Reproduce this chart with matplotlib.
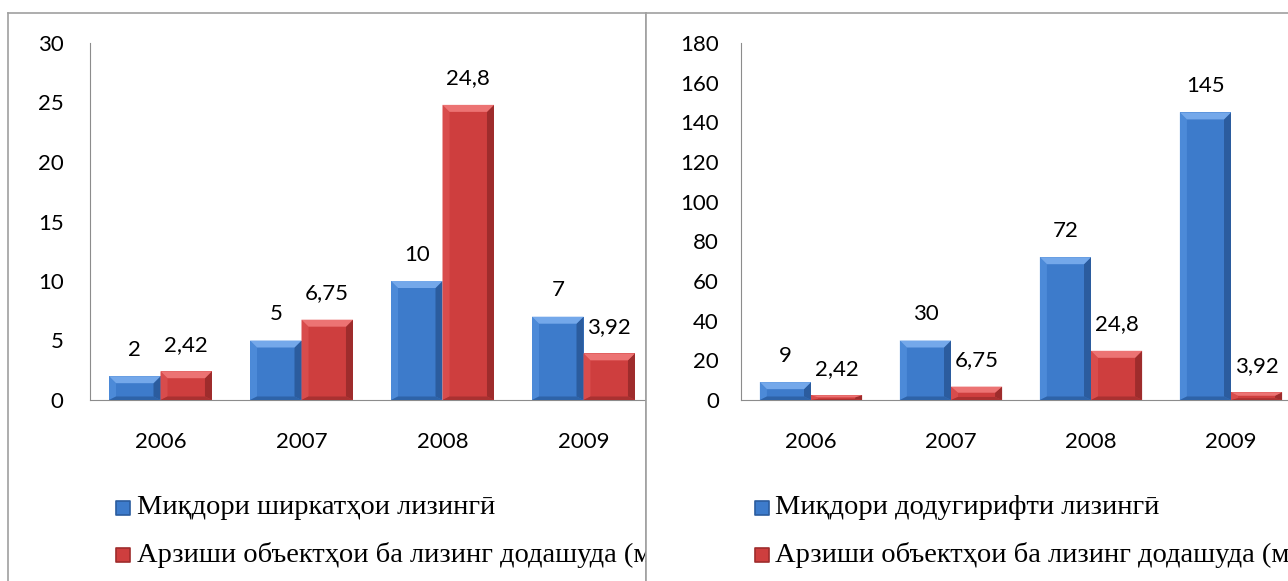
import matplotlib
matplotlib.use("Agg")
import matplotlib.pyplot as plt
from matplotlib.patches import Polygon
import numpy as np

years = ["2006", "2007", "2008", "2009"]
left_blue = [2, 5, 10, 7]
left_red = [2.42, 6.75, 24.8, 3.92]
right_blue = [9, 30, 72, 145]
right_red = [2.42, 6.75, 24.8, 3.92]
left_blue_lbl = ["2", "5", "10", "7"]
red_lbl = ["2,42", "6,75", "24,8", "3,92"]
right_blue_lbl = ["9", "30", "72", "145"]
left_legend = ["Миқдори ширкатҳои лизингӣ",
               "Арзиши объектҳои ба лизинг додашуда (млн. сомонӣ)"]
right_legend = ["Миқдори додугирифти лизингӣ",
                "Арзиши объектҳои ба лизинг додашуда (млн. сомонӣ)"]

# face, top, left side, right side, bottom
BLUE = ["#3D7BCB", "#74A8EA", "#4C8AD8", "#2B5C9E", "#2E63A8"]
RED = ["#CE3E3E", "#EC7373", "#D84C4C", "#9E2C2C", "#A93131"]
GRAY = "#8C8C8C"
NUM_FONT = ["Lato", "DejaVu Sans"]
LEG_FONT = ["Liberation Serif", "DejaVu Serif"]

W, H = 1288, 581
fig = plt.figure(figsize=(W / 100, H / 100), dpi=100)


def fx(px):
    return px / W


def fy(py):
    return 1 - py / H


def panel(x0, x1):
    ax = fig.add_axes([fx(x0), fy(H + 10), fx(x1 - x0), fy(13) - fy(H + 10)])
    ax.set_xlim(0, 1)
    ax.set_ylim(0, 1)
    ax.set_xticks([])
    ax.set_yticks([])
    for s in ax.spines.values():
        s.set_color("#A0A0A0")
        s.set_linewidth(1.2)
    return ax


def bevel(ax, rects, cols, px_x, px_y):
    # lighter top / darker sides, sizes in pixels converted to data units
    for r in rects:
        x0, x1 = r.get_x(), r.get_x() + r.get_width()
        h = r.get_height()
        d = min(7, h / px_y / 2.2)
        bx, by = 7 * px_x, d * px_y
        sides = [
            ([(x0, 0), (x0, h), (x0 + bx, h - by), (x0 + bx, by * 0.5)], cols[2]),
            ([(x1, 0), (x1, h), (x1 - bx, h - by), (x1 - bx, by * 0.5)], cols[3]),
            ([(x0, 0), (x1, 0), (x1 - bx, by * 0.5), (x0 + bx, by * 0.5)], cols[4]),
            ([(x0, h), (x1, h), (x1 - bx, h - by), (x0 + bx, h - by)], cols[1]),
        ]
        for pts, c in sides:
            ax.add_patch(Polygon(pts, closed=True, facecolor=c, edgecolor="none", zorder=4))


def bars(x0, x1, top_px, ymax, step, blue, red, blue_lbl, pad_y):
    ax = fig.add_axes([fx(x0), fy(400), fx(x1 - x0), fy(top_px) - fy(400)])
    ax.patch.set_alpha(0)
    x = np.arange(len(years))
    w = 0.365
    px_x = len(years) / (x1 - x0)
    px_y = ymax / (400 - top_px)
    b1 = ax.bar(x - w / 2, blue, w, color=BLUE[0], linewidth=0, zorder=3)
    b2 = ax.bar(x + w / 2, red, w, color=RED[0], linewidth=0, zorder=3)
    bevel(ax, b1, BLUE, px_x, px_y)
    bevel(ax, b2, RED, px_x, px_y)
    for rect, t in zip(b1, blue_lbl):
        ax.annotate(t, (rect.get_x() + rect.get_width() / 2, rect.get_height()),
                    xytext=(0, 19), textcoords="offset points", ha="center", va="center",
                    fontsize=16, family=NUM_FONT)
    for rect, t in zip(b2, red_lbl):
        ax.annotate(t, (rect.get_x() + rect.get_width() / 2, rect.get_height()),
                    xytext=(0, 19), textcoords="offset points", ha="center", va="center",
                    fontsize=16, family=NUM_FONT)
    ax.set_xlim(-0.5, len(years) - 0.5)
    ax.set_ylim(0, ymax)
    ax.set_yticks(np.arange(0, ymax + 1, step))
    ax.set_xticks(x)
    ax.set_xticklabels(years)
    ax.tick_params(axis="both", length=0, labelsize=16)
    ax.tick_params(axis="y", pad=pad_y)
    ax.tick_params(axis="x", pad=23)
    for lbl in ax.get_xticklabels() + ax.get_yticklabels():
        lbl.set_family(NUM_FONT)
    ax.spines["top"].set_visible(False)
    ax.spines["right"].set_visible(False)
    ax.spines["left"].set_color(GRAY)
    ax.spines["bottom"].set_color(GRAY)
    return ax


def legend(ax, x_left, x_right, mx, tx, texts):
    width = x_right - x_left
    for txt, cols, py in zip(texts, [BLUE, RED], [508, 555]):
        yy = (fy(py) - fy(H + 10)) / (fy(13) - fy(H + 10))
        ax.scatter([(mx - x_left) / width], [yy], s=95, marker="s", color=cols[0],
                   edgecolor=cols[3], linewidth=1.2, zorder=3)
        t = ax.text((tx - x_left) / width, yy, txt, ha="left", va="center",
                    fontsize=20.5, family=LEG_FONT)
        t.set_clip_box(ax.bbox)


p1 = panel(8, 646)
bars(90, 654, 43, 30, 5, left_blue, left_red, left_blue_lbl, 19)
legend(p1, 8, 646, 123, 137, left_legend)

p2 = panel(646, 1300)
bars(741, 1301, 43, 180, 20, right_blue, right_red, right_blue_lbl, 16)
legend(p2, 646, 1300, 762, 775, right_legend)

fig.savefig("out.png", dpi=100)
